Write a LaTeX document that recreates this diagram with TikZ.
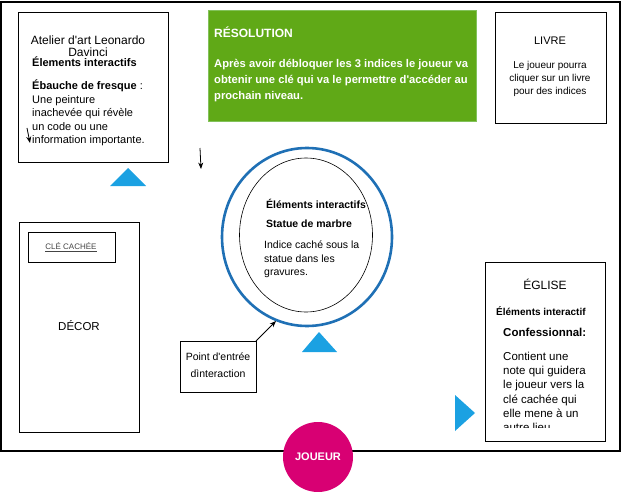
\documentclass[tikz,border=0pt]{standalone}
\usepackage{fontspec}
\setmainfont{Liberation Sans}
\usetikzlibrary{arrows.meta,shapes.geometric}

\definecolor{resgreen}{HTML}{60A917}
\definecolor{resedge}{HTML}{82C25A}
\definecolor{ringblue}{HTML}{1F70B5}
\definecolor{markblue}{HTML}{1BA1E2}
\definecolor{joueurpink}{HTML}{D80073}
\definecolor{keygray}{HTML}{444444}

\tikzset{
  zone/.style={draw, line width=0.9pt},
  txt/.style={inner sep=0pt, align=left, anchor=north west, font=\fontsize{11}{13.6}\selectfont},
  ctxt/.style={inner sep=0pt, align=center, font=\fontsize{11}{13.6}\selectfont},
  pointer/.style={-{Stealth[length=6.5pt,width=5pt]}, line width=0.8pt},
}

\begin{document}
\begin{tikzpicture}[x=1pt,y=-1pt]
    \useasboundingbox (0,0) rectangle (621,492);

    % Outer frame of the level
    \draw[line width=1.2pt] (1,2) rectangle (620,451);

    % Atelier d'art (top-left)
    \draw[zone] (18,12) rectangle (168,162);
    \node[ctxt, font=\fontsize{12}{12.5}\selectfont] (atelier) at (88,46) {Atelier d\textquotesingle art Leonardo\\Davinci};
    \node[txt] (atelierinfo) at (32,57) {\textbf{Élements interactifs}\\[9pt]
        \textbf{Ébauche de fresque} :\\Une peinture\\inachevée qui révèle\\un code ou une\\information importante.};
    \coordinate (atelierin) at (27,128);
    \coordinate (atelierout) at (30,143);
    \draw[pointer] (atelierin) -- (atelierout);
    \fill[markblue] (110,186) -- (128,168) -- (146,186) -- cycle;

    % Loose arrow next to the atelier
    \coordinate (dropin) at (200,148);
    \coordinate (dropout) at (201,169);
    \draw[pointer] (dropin) -- (dropout);

    % Resolution (top-middle)
    \node[fill=resgreen, draw=resedge, line width=0.6pt, minimum width=268pt, minimum height=111pt] (resolution) at (342,65.5) {};
    \node[txt, text=white, font=\bfseries\fontsize{12}{16}\selectfont] (resotitle) at (214,27) {RÉSOLUTION};
    \node[txt, text=white, font=\bfseries\fontsize{11.2}{16}\selectfont] (resotext) at (214,59) {Après avoir débloquer les 3 indices le joueur va\\obtenir une clé qui va le permettre d\textquotesingle accéder au\\prochain niveau.};

    % Livre (top-right)
    \draw[zone] (495,12) rectangle (606,123);
    \node[ctxt] (livre) at (550,41) {LIVRE};
    \node[ctxt, font=\fontsize{10}{13}\selectfont] (livretext) at (550,79) {Le joueur pourra\\cliquer sur un livre\\pour des indices};

    % Decor with hidden key (left)
    \draw[zone] (19,222) rectangle (139,432);
    \draw[zone] (28,232) rectangle (115,262);
    \node[ctxt, text=keygray, font=\fontsize{8}{9}\selectfont] (cle) at (71,247) {\underline{CLÉ CACHÉE}};
    \node[ctxt, font=\fontsize{11.5}{13}\selectfont] (decor) at (79,326) {DÉCOR};

    % Statue in the centre
    \node[ellipse, draw=ringblue, line width=2.6pt, minimum width=170pt, minimum height=178pt, inner sep=0pt] (ring) at (307,237) {};
    \node[ellipse, draw, line width=0.6pt, minimum width=133pt, minimum height=154pt, inner sep=0pt] (statue) at (306,235) {};
    \node[txt, font=\bfseries\fontsize{10.5}{12}\selectfont] (statuetitle) at (266,199) {Éléments interactifs};
    \node[txt, font=\bfseries\fontsize{10.5}{12}\selectfont] (statuename) at (266,220) {Statue de marbre};
    \node[txt, font=\fontsize{10.5}{13.5}\selectfont] (statuetext) at (264,241) {Indice caché sous la\\statue dans les\\gravures.};
    \fill[markblue] (302,352) -- (319,332) -- (337,352) -- cycle;

    % Entry point
    \draw[zone] (180,341) rectangle (256,392);
    \node[ctxt, font=\fontsize{10.5}{17}\selectfont] (entree) at (218,365) {Point d\textquotesingle entrée\\dìnteraction};
    \coordinate (entreecorner) at (256,341);
    \coordinate (ringedge) at (276,321);
    \draw[pointer] (entreecorner) -- (ringedge);

    % Eglise (bottom-right)
    \draw[zone] (485,262) rectangle (605,441);
    \node[ctxt, font=\fontsize{12}{13}\selectfont] (eglise) at (545,284) {ÉGLISE};
    \node[txt, font=\bfseries\fontsize{10}{12}\selectfont] (egliseinfo) at (496,306) {Éléments interactif};
    \node[txt, font=\bfseries\fontsize{11.5}{13}\selectfont] (confession) at (503,328) {Confessionnal:};
    \begin{scope}
        \clip (485,262) rectangle (605,427);
        \node[txt, font=\fontsize{11.5}{14.2}\selectfont] (eglisetext) at (503,352) {Contient une\\note qui guidera\\le joueur vers la\\clé cachée qui\\elle mene à un\\autre lieu};
    \end{scope}
    \fill[markblue] (455,395) -- (475,413) -- (455,431) -- cycle;

    % Player
    \node[circle, fill=joueurpink, minimum size=70pt, inner sep=0pt, text=white, font=\bfseries\fontsize{11}{12}\selectfont] (joueur) at (318,457) {JOUEUR};
\end{tikzpicture}
\end{document}
